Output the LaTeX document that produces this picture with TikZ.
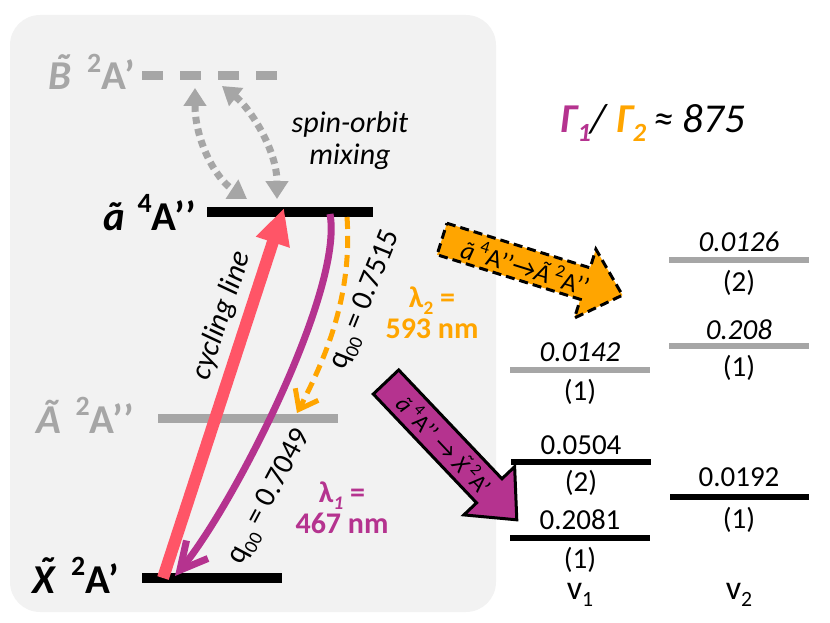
\documentclass[tikz,border=0pt]{standalone}
\usepackage{fontspec}
\usepackage{graphicx}
\setmainfont{Carlito}
\usetikzlibrary{arrows.meta}
\definecolor{bggray}{HTML}{F2F2F2}
\definecolor{lgray}{HTML}{A6A6A6}
\definecolor{myorange}{HTML}{FFA500}
\definecolor{mypurple}{HTML}{B5338F}
\definecolor{myred}{HTML}{FF5567}
\newcommand\supr[1]{\raisebox{0.42em}{\scalebox{0.68}{#1}}}
\newcommand\subr[1]{\raisebox{-0.22em}{\scalebox{0.64}{#1}}}
\newcommand\fsz[1]{\fontsize{#1}{#1}\selectfont}
\newcommand\tld[1]{\ooalign{#1\cr\hidewidth\kern0.12em\raisebox{0.19em}{˜}\hidewidth\cr}}
\begin{document}
\begin{tikzpicture}[x=1pt,y=-1pt,
  statelbl/.style={anchor=base east, inner sep=0pt, font=\fsz{41}\bfseries},
  numlbl/.style={inner sep=0pt, font=\fsz{29}},
  biglvl/.style={line width=10pt},
  smalllvl/.style={line width=6.5pt},
  mixarrow/.style={lgray, line width=7pt, dash pattern=on 7pt off 5pt,
     {Triangle[width=22pt,length=18pt]}-{Triangle[width=22pt,length=18pt]}},
  plaintext/.style={inner sep=0pt, font=\fsz{30}}
]
\useasboundingbox (0,0) rectangle (830,623);
\fill[bggray, rounded corners=30pt] (10,15) rectangle (496,612);

% ---------- energy levels (left) ----------
\draw[lgray, line width=9pt, dash pattern=on 20.5pt off 17.5pt] (142,76) -- (282,76);
\draw[biglvl, black] (207,212) -- (373,212);
\draw[lgray, line width=9pt] (158,418) -- (338,418);
\draw[biglvl, black] (142,578) -- (282,578);

\node[statelbl, text=lgray] (Blbl) at (135,90) {{\itshape\tld{B}}\hspace{0.38em}\supr{2}A’};
\node[statelbl] (albl) at (196,230) {{\itshape ã}\hspace{0.3em}\supr{4}A’’};
\node[statelbl, text=lgray] (Albl) at (134,433) {{\itshape Ã}\hspace{0.35em}\supr{2}A’’};
\node[statelbl] (Xlbl) at (119,593) {{\itshape\tld{X}}\hspace{0.38em}\supr{2}A’};

\coordinate (Bl1) at (195,88);
\coordinate (al1) at (247,199);
\coordinate (Bl2) at (222,86);
\coordinate (al2) at (277,199);
\coordinate (xr) at (163,578);
\coordinate (ar) at (284,208);
\coordinate (ap) at (330,214);
\coordinate (xp) at (175,576);
\coordinate (ao) at (347,217);
\coordinate (Ao) at (297,413);

% spin-orbit mixing
\draw[mixarrow] (Bl1) .. controls (195,140) and (215,178) .. (al1);
\draw[mixarrow] (Bl2) .. controls (250,108) and (277,150) .. (al2);
\node[plaintext, align=center, font=\fsz{30}\itshape, text depth=0pt] (som) at (350,138)
  {spin-orbit\\[2pt]mixing};

% cycling line
\draw[myred, line width=12pt, -{Triangle[width=33pt,length=36pt]}] (xr) -- (ar);
\node[plaintext, rotate=71.7, font=\fsz{30}\itshape] (cyc) at (222,316) {cycling line};

% decay arrows
\draw[mypurple, line width=7pt, -{Straight Barb[length=27pt,width=28pt]}]
  (ap) .. controls (344,290) and (232,508) .. (xp);
\draw[myorange, line width=5pt, dash pattern=on 12pt off 7pt, -{Straight Barb[length=17pt,width=26pt]}]
  (ao) .. controls (352,290) and (330,350) .. (Ao);

\node[plaintext, rotate=68] (q1) at (366,300) {q\subr{00} = 0.7515};
\node[plaintext, rotate=62] (q2) at (270,497) {q\subr{00} = 0.7049};

\node[plaintext, align=center, font=\fsz{30}\bfseries, text=myorange] (lam2) at (432,313)
  {λ\subr{2} =\\[1pt]593 nm};
\node[plaintext, align=center, font=\fsz{30}\bfseries, text=mypurple] (lam1) at (342,508)
  {λ\subr{\itshape 1} =\\[1pt]467 nm};

% ratio
\node[inner sep=0pt, font=\fsz{41}\itshape] (ratio) at (653,123)
  {{\bfseries\color{mypurple}Γ\subr{1}}/ {\bfseries\color{myorange}Γ\subr{2}}\,≈ 875};

% ---------- block arrows ----------
\begin{scope}[shift={(442,239)}, rotate=-17.3]
  \draw[fill=myorange, draw=black, line width=3pt, dash pattern=on 9pt off 5pt, line join=miter]
    (0,-16.5) -- (150,-16.5) -- (150,-36) -- (189,0) -- (150,36) -- (150,16.5) -- (0,16.5) -- cycle;
  \node[inner sep=0pt, transform shape, font=\fsz{26}] (oarrtxt) at (88,1)
    {{\itshape ã}\,\supr{4}A’’→{\itshape Ã}\,\supr{2}A’’};
\end{scope}
\begin{scope}[shift={(386,382)}, rotate=-46.5]
  \draw[fill=mypurple, draw=black, line width=3pt, line join=miter]
    (0,-17.5) -- (150,-17.5) -- (150,-35) -- (190,0) -- (150,35) -- (150,17.5) -- (0,17.5) -- cycle;
  \node[inner sep=0pt, transform shape, font=\fsz{24}] (parrtxt) at (86,0)
    {{\itshape ã}\,\supr{4}A’’ → {\itshape\tld{X}}\,\supr{2}A’};
\end{scope}

% ---------- vibrational levels (right) ----------
\draw[smalllvl, lgray] (669,260) -- (809,260);
\node[numlbl, font=\fsz{29}\itshape] (n0126) at (739,242) {0.0126};
\node[numlbl] (v22) at (739,283) {(2)};
\draw[smalllvl, lgray] (669,346) -- (809,346);
\node[numlbl, font=\fsz{29}\itshape] (n208) at (739,330) {0.208};
\node[numlbl] (v21g) at (739,368) {(1)};
\draw[smalllvl, lgray] (510,370) -- (650,370);
\node[numlbl, font=\fsz{29}\itshape] (n0142) at (580,352) {0.0142};
\node[numlbl] (v11g) at (580,392) {(1)};

\draw[smalllvl, black] (511,462) -- (651,462);
\node[numlbl] (n0504) at (581,445) {0.0504};
\node[numlbl] (v12) at (581,483) {(2)};
\draw[smalllvl, black] (510,538) -- (650,538);
\node[numlbl] (n2081) at (580,520) {0.2081};
\node[numlbl] (v11) at (580,560) {(1)};
\draw[smalllvl, black] (670,497) -- (809,497);
\node[numlbl] (n0192) at (739,477) {0.0192};
\node[numlbl] (v21) at (739,520) {(1)};

\node[inner sep=0pt, font=\fsz{34}] (nu1) at (580,595) {v\subr{1}};
\node[inner sep=0pt, font=\fsz{34}] (nu2) at (739,595) {v\subr{2}};
\end{tikzpicture}
\end{document}
